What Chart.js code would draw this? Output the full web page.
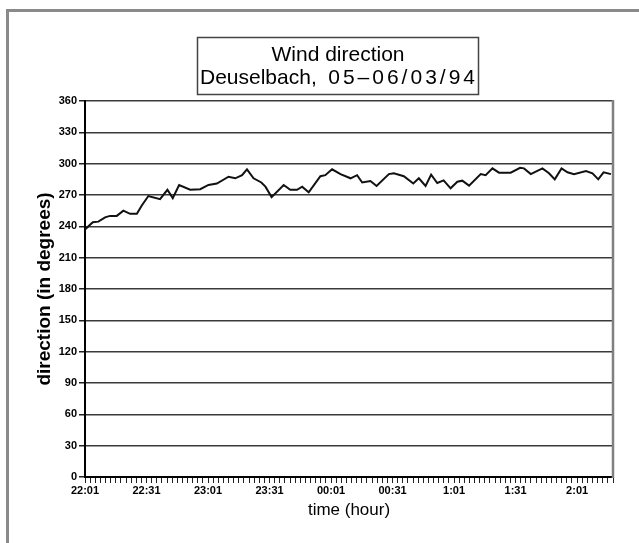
<!DOCTYPE html>
<html>
<head>
<meta charset="utf-8">
<script src="https://cdn.jsdelivr.net/npm/chart.js@4.4.1/dist/chart.umd.min.js"></script>
<style>
  html, body { margin: 0; padding: 0; background: #fff; }
  #wrap { position: relative; width: 639px; height: 543px; }
</style>
</head>
<body>
<div id="wrap"><canvas id="c" width="639" height="543"></canvas></div>
<script>
// minutes elapsed since 22:01
const minutes = [0, 3.8, 6.5, 9.8, 12.2, 15.5, 18.7, 22, 25.3, 27.7, 30.9, 36.6, 40.2, 42.8, 45.9,
  51.3, 56.2, 60.2, 64.3, 70, 73.3, 76.6, 79, 82.2, 86, 88, 91, 96.9, 100.1, 103.4, 105.9,
  109.1, 114.8, 117.2, 120.5, 124.6, 129.5, 132.7, 135.2, 139.2, 142.2, 148.2, 150.6, 155.5,
  160.1, 162.8, 166.1, 168.8, 171.8, 174.9, 178.3, 181.6, 184, 187.3, 193, 195.4, 198.7,
  201.9, 207.6, 212.2, 214.1, 217.4, 223.1, 226.3, 229.1, 232.4, 235.3, 238.5, 244.3,
  247.5, 250.3, 252.9, 256.5];
// wind direction (degrees)
const direction = [237, 244, 244.5, 248.6, 250, 250, 255, 252, 252, 260, 269, 266, 275, 267, 279.6,
  275, 275.5, 279.6, 281, 287.5, 286, 289, 294.6, 286, 282, 278, 268, 279.6, 275, 275, 278,
  272.6, 288, 289, 294.6, 290, 286, 289, 282, 283.4, 278.6, 290, 290.8, 288,
  281, 286, 278.6, 289.5, 281.5, 284, 276.4, 282.7, 283.7, 279, 290, 289, 295.5,
  291.4, 291.4, 296, 295.5, 290, 295.5, 290.8, 285, 295.5, 291.7, 290, 293,
  290.8, 285, 291.7, 290];
const hourLabels = ['22:01', '22:31', '23:01', '23:31', '00:01', '00:31', '1:01', '1:31', '2:01'];
const titleLine1 = 'Wind direction';
const titlePlace = 'Deuselbach,';
const titleDate = '05\u201306/03/94';

const points = minutes.map((m, i) => ({ x: m, y: direction[i] }));

const decor = {
  id: 'decor',
  beforeDraw(chart) {
    const ctx = chart.ctx;
    ctx.save();
    ctx.fillStyle = '#fff';
    ctx.fillRect(0, 0, chart.width, chart.height);
    // outer frame (left & top)
    ctx.strokeStyle = '#8a8a8a';
    ctx.lineWidth = 3;
    ctx.beginPath();
    ctx.moveTo(7.5, chart.height + 2);
    ctx.lineTo(7.5, 10.5);
    ctx.lineTo(chart.width + 2, 10.5);
    ctx.stroke();
    // title box
    ctx.strokeStyle = '#444';
    ctx.lineWidth = 1.5;
    ctx.strokeRect(197.5, 37.5, 281, 57);
    ctx.fillStyle = '#000';
    ctx.font = '21px "Liberation Sans", Arial, sans-serif';
    ctx.textBaseline = 'alphabetic';
    ctx.textAlign = 'center';
    ctx.fillText(titleLine1, 338, 61);
    ctx.textAlign = 'left';
    ctx.fillText(titlePlace, 200, 84);
    ctx.textAlign = 'right';
    ctx.letterSpacing = '3px';
    ctx.fillText(titleDate, 478, 84);
    ctx.restore();
  },
  afterDatasetsDraw(chart) {
    const ctx = chart.ctx;
    const a = chart.chartArea;
    ctx.save();
    ctx.strokeStyle = '#808080';
    ctx.lineWidth = 2.5;
    ctx.beginPath();
    ctx.moveTo(a.right, a.top - 1);
    ctx.lineTo(a.right, a.bottom + 1);
    ctx.stroke();
    ctx.restore();
  }
};

new Chart(document.getElementById('c'), {
  type: 'line',
  data: {
    datasets: [{
      data: points,
      borderColor: '#111',
      borderWidth: 2,
      pointRadius: 0,
      tension: 0,
      fill: false
    }]
  },
  options: {
    responsive: false,
    animation: false,
    events: [],
    layout: { padding: { left: 29, right: 26, top: 101, bottom: 18 } },
    plugins: { legend: { display: false }, title: { display: false }, tooltip: { enabled: false } },
    scales: {
      x: {
        type: 'linear',
        min: 0,
        max: 257.5,
        afterFit(scale) { scale.height = 48; },
        ticks: {
          stepSize: 2.5,
          autoSkip: false,
          maxRotation: 0,
          minRotation: 0,
          padding: 1,
          color: '#000',
          font: { family: '"Liberation Sans", Arial, sans-serif', size: 11, weight: 'bold' },
          callback(v) { return (v % 30 === 0) ? hourLabels[v / 30] : ''; }
        },
        grid: { drawOnChartArea: false, drawTicks: true, tickLength: 6, tickColor: '#222', lineWidth: 1 },
        border: { display: true, color: '#000', width: 2 },
        title: {
          display: true,
          text: 'time (hour)',
          color: '#000',
          font: { family: '"Liberation Sans", Arial, sans-serif', size: 17 }
        }
      },
      y: {
        min: 0,
        max: 360,
        afterFit(scale) { scale.width = 56; },
        ticks: {
          stepSize: 30,
          padding: 2,
          color: '#000',
          font: { family: '"Liberation Sans", Arial, sans-serif', size: 11, weight: 'bold' }
        },
        grid: { color: '#3a3a3a', lineWidth: 1.5, tickLength: 6, tickColor: '#222', drawTicks: true },
        border: { display: true, color: '#000', width: 2 },
        title: {
          display: true,
          text: 'direction (in degrees)',
          color: '#000',
          font: { family: '"Liberation Sans", Arial, sans-serif', size: 19, weight: 'bold' }
        }
      }
    }
  },
  plugins: [decor]
});
</script>
</body>
</html>
